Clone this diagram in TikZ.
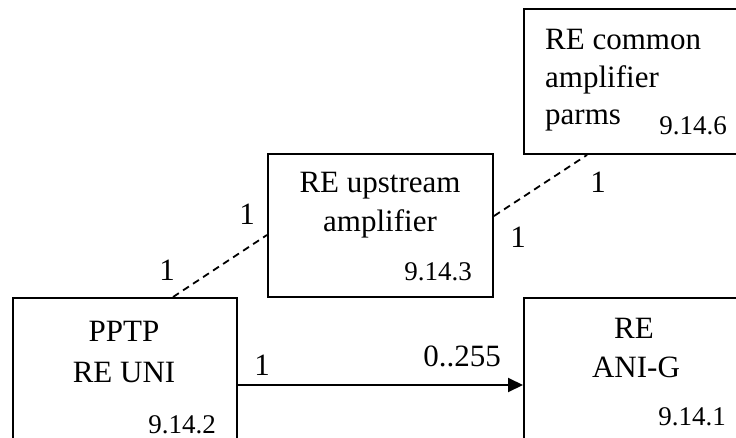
\documentclass[tikz,border=0pt]{standalone}
\usepackage{fontspec}
\setmainfont{Liberation Serif}
\usetikzlibrary{arrows.meta}

\begin{document}
\begin{tikzpicture}[x=1pt,y=-1pt,
  box/.style={draw=black,line width=2pt,anchor=north west,inner sep=0pt,minimum width=226pt,minimum height=143pt},
  big/.style={font=\fontsize{31}{37}\selectfont,inner sep=0pt,anchor=base},
  small/.style={font=\fontsize{27}{32}\selectfont,inner sep=0pt,anchor=base},
  link/.style={line width=1.8pt,dash pattern=on 7pt off 5pt}]
\useasboundingbox (0,0) rectangle (736,438);
\clip (0,0) rectangle (736,438);
\node[box,minimum width=224pt] (pptp) at (12,297) {};
\node[big] (pptpa) at (124,341) {PPTP};
\node[big] (pptpb) at (124,382) {RE UNI};
\node[small] (pptpn) at (182,433) {9.14.2};
\node[box,minimum width=225pt] (up) at (267,153) {};
\node[big] (upa) at (380,193) {RE upstream};
\node[big] (upb) at (380,232) {amplifier};
\node[small] (upn) at (438,280) {9.14.3};
\node[box,minimum height=145pt] (common) at (523,8) {};
\node[big,anchor=base west] (coma) at (545,50) {RE common};
\node[big,anchor=base west] (comb) at (545,88) {amplifier};
\node[big,anchor=base west] (comc) at (545,125) {parms};
\node[small] (comn) at (693,135) {9.14.6};
\node[box] (anig) at (523,297) {};
\node[big] (aniga) at (634,338) {RE};
\node[big] (anigb) at (636,377) {ANI-G};
\node[small] (anign) at (692,425) {9.14.1};
\draw[link] ([xshift=48pt]pptp.north) -- ([yshift=-9.5pt]up.west);
\draw[link] ([yshift=9.5pt]up.east) -- ([xshift=64pt]common.south west);
\draw[line width=2pt,-{Triangle[length=15pt,width=14pt]}] ([yshift=-15.5pt]pptp.east) -- ([yshift=-15.5pt]anig.west);
\node[big] (m1) at (167,280) {1};
\node[big] (m2) at (247,225) {1};
\node[big] (m3) at (518,248) {1};
\node[big] (m4) at (598,193) {1};
\node[big] (m5) at (262,375) {1};
\node[big] (m6) at (462,366) {0..255};
\end{tikzpicture}
\end{document}
